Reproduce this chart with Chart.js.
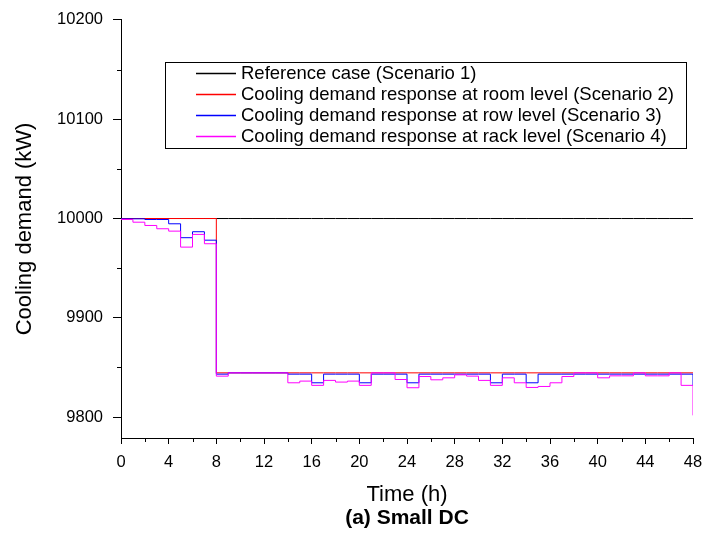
<!DOCTYPE html>
<html>
<head>
<meta charset="utf-8">
<script src="https://cdn.jsdelivr.net/npm/chart.js@4.4.0/dist/chart.umd.min.js"></script>
<style>
  html, body { margin: 0; padding: 0; background: #fff; }
</style>
</head>
<body>
<canvas id="myChart" width="704" height="538"></canvas>
<script>
// hourly values, each one holds until the next hour (index 48 = end point)
const hours = Array.from({length: 49}, (_, i) => i);

const refCase = [
  10000,10000,10000,10000,10000,10000,10000,10000,10000,10000,
  10000,10000,10000,10000,10000,10000,10000,10000,10000,10000,
  10000,10000,10000,10000,10000,10000,10000,10000,10000,10000,
  10000,10000,10000,10000,10000,10000,10000,10000,10000,10000,
  10000,10000,10000,10000,10000,10000,10000,10000,10000
];
const roomLevel = [
  10000,10000,10000,10000,10000,10000,10000,10000,9844.6,9844.6,
  9844.6,9844.6,9844.6,9844.6,9844.6,9844.6,9844.6,9844.6,9844.6,9844.6,
  9844.6,9844.6,9844.6,9844.6,9844.6,9844.6,9844.6,9844.6,9844.6,9844.6,
  9844.6,9844.6,9844.6,9844.6,9844.6,9844.6,9844.6,9844.6,9844.6,9844.6,
  9844.6,9844.6,9844.6,9844.6,9844.6,9844.6,9844.6,9844.6,9844.6
];
const rowLevel = [
  9999.7,9999.7,9999,9999,9994.7,9980.7,9986.7,9978.2,9843.3,9844.6,
  9844.6,9844.6,9844.6,9844.6,9843.3,9843.3,9834.6,9843.3,9843.3,9843.3,
  9834.6,9843.3,9843.3,9843.3,9834.6,9843.3,9843.3,9843.3,9843.3,9843.3,
  9843.3,9834.6,9843.3,9843.3,9834.6,9843.3,9843.3,9843.3,9843.3,9843.3,
  9843.3,9843.3,9843.3,9843.3,9843.3,9843.3,9843.3,9843.3,9832
];
const rackLevel = [
  9999,9996.3,9993,9989.7,9987.3,9971.2,9984,9974.6,9841.3,9844.6,
  9844.6,9844.6,9844.6,9844.6,9834.6,9836.3,9832,9837,9835.3,9836.3,
  9832,9844.6,9844.6,9837.9,9829.6,9840.9,9837.6,9839.6,9842.6,9841.3,
  9837,9832,9839.6,9834.6,9829.9,9830.9,9834.6,9840.9,9844.6,9844.6,
  9839.6,9841.6,9841.6,9844.6,9841.6,9841.6,9844.6,9832,9801.8
];

const yTicks = [9800, 9900, 10000, 10100, 10200];
const yMinor = [9850, 9950, 10050, 10150];
const xMinor = [2, 6, 10, 14, 18, 22, 26, 30, 34, 38, 42, 46];

const fontFamily = "'Liberation Sans', Arial, sans-serif";
Chart.defaults.font.family = fontFamily;
Chart.defaults.color = '#000';

const toPoints = (arr) => arr.map((v, i) => ({x: hours[i], y: v}));

const minorTicks = {
  id: 'minorTicks',
  afterDraw(chart) {
    const {ctx, scales: {x, y}} = chart;
    ctx.save();
    ctx.strokeStyle = '#000';
    ctx.lineWidth = 1;
    ctx.beginPath();
    xMinor.forEach(v => {
      const px = Math.round(x.getPixelForValue(v)) + 0.5;
      ctx.moveTo(px, y.bottom);
      ctx.lineTo(px, y.bottom + 4);
    });
    yMinor.forEach(v => {
      const py = Math.round(y.getPixelForValue(v)) + 0.5;
      ctx.moveTo(x.left - 4, py);
      ctx.lineTo(x.left, py);
    });
    ctx.stroke();
    ctx.restore();
  }
};

// legend box inside the plot + panel caption under the axis title
const boxLegend = {
  id: 'boxLegend',
  afterDraw(chart) {
    const ctx = chart.ctx;
    const left = 165, top = 62, right = 686, bottom = 148;
    ctx.save();
    ctx.strokeStyle = '#000';
    ctx.lineWidth = 1;
    ctx.strokeRect(left + 0.5, top + 0.5, right - left, bottom - top);
    ctx.font = '18.5px ' + fontFamily;
    ctx.textBaseline = 'middle';
    ctx.fillStyle = '#000';
    chart.data.datasets.forEach((ds, i) => {
      const yy = top + 11.5 + i * 21;
      ctx.beginPath();
      ctx.strokeStyle = ds.borderColor;
      ctx.lineWidth = 1.3;
      ctx.moveTo(196, yy);
      ctx.lineTo(236, yy);
      ctx.stroke();
      ctx.fillText(ds.label, 241, yy);
    });

    const area = chart.chartArea;
    ctx.font = 'bold 21px ' + fontFamily;
    ctx.textAlign = 'center';
    ctx.fillText('(a) Small DC', (area.left + area.right) / 2, 518);
    ctx.restore();
  }
};

const ctx = document.getElementById('myChart').getContext('2d');
const myChart = new Chart(ctx, {
  type: 'line',
  data: {
    datasets: [
      {label: 'Reference case (Scenario 1)', data: toPoints(refCase), borderColor: '#000000', order: 4},
      {label: 'Cooling demand response at room level (Scenario 2)', data: toPoints(roomLevel), borderColor: '#ff0000', order: 3},
      {label: 'Cooling demand response at row level (Scenario 3)', data: toPoints(rowLevel), borderColor: '#0000ff', order: 2},
      {label: 'Cooling demand response at rack level (Scenario 4)', data: toPoints(rackLevel), borderColor: '#ff00ff', order: 1}
    ]
  },
  options: {
    responsive: false,
    animation: false,
    devicePixelRatio: 1,
    elements: {
      line: {borderWidth: 1, stepped: true, fill: false, tension: 0},
      point: {radius: 0, hoverRadius: 0}
    },
    layout: {padding: {top: 18, right: 11, left: 0, bottom: 0}},
    scales: {
      x: {
        type: 'linear',
        min: 0,
        max: 48,
        afterFit: (scale) => {
          scale.height = 100;
          scale.paddingLeft = 0;
          scale.paddingRight = 0;
        },
        grid: {drawOnChartArea: false, tickLength: 6, tickColor: '#000'},
        border: {color: '#000', width: 1},
        ticks: {stepSize: 4, padding: 9, font: {size: 16.5}, color: '#000', maxRotation: 0,
                callback: (v) => String(v)},
        title: {display: true, text: 'Time (h)', font: {size: 22}, color: '#000', padding: {top: 0, bottom: 30}}
      },
      y: {
        min: 9779,
        max: 10200,
        afterFit: (scale) => { scale.width = 121; },
        afterBuildTicks: (scale) => { scale.ticks = yTicks.map(v => ({value: v})); },
        grid: {drawOnChartArea: false, tickLength: 8, tickColor: '#000'},
        border: {color: '#000', width: 1},
        ticks: {padding: 10, font: {size: 16.5}, color: '#000', callback: (v) => String(v)},
        title: {display: true, text: 'Cooling demand (kW)', font: {size: 22}, color: '#000', padding: {top: 12, bottom: 0}}
      }
    },
    plugins: {
      legend: {display: false},
      tooltip: {enabled: false},
      title: {display: false}
    }
  },
  plugins: [minorTicks, boxLegend]
});
</script>
</body>
</html>
